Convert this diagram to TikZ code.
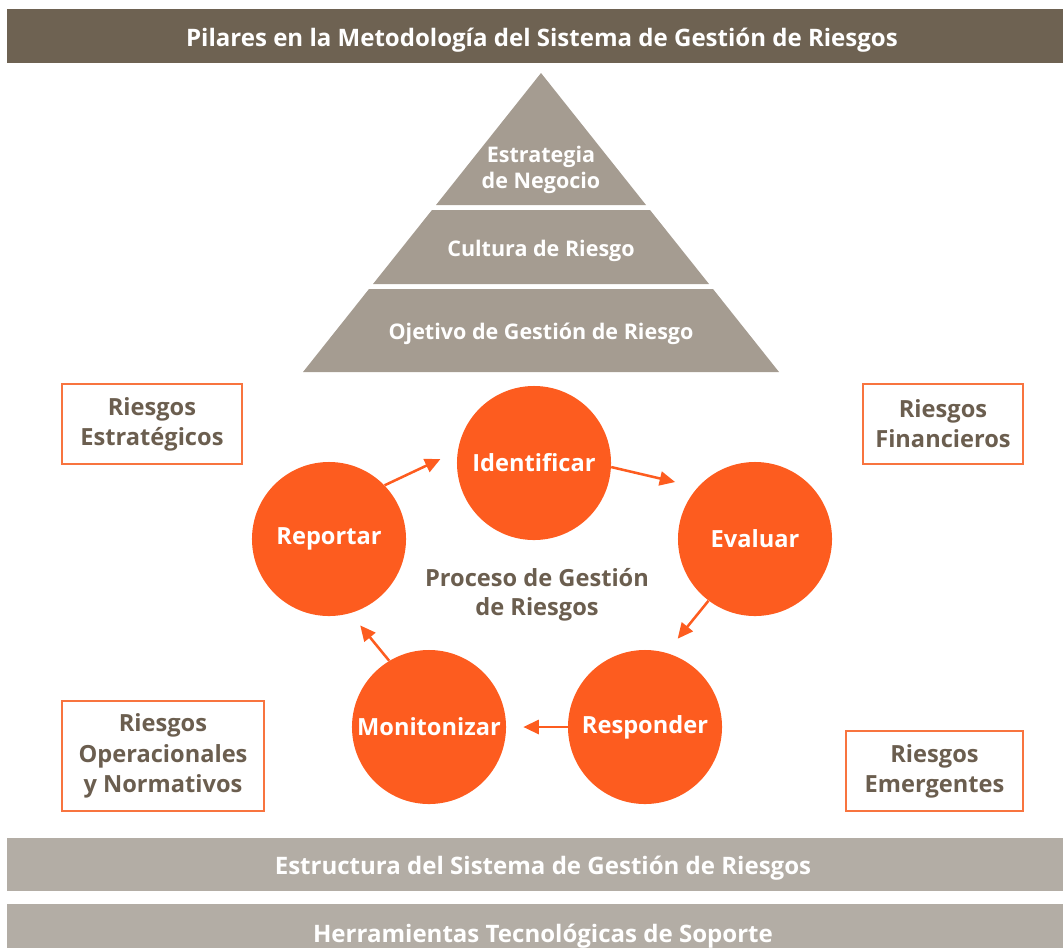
\documentclass[tikz,border=0pt]{standalone}
\usepackage{fontspec}
\setmainfont{Open Sans}
\usetikzlibrary{arrows.meta}

\definecolor{barbrown}{HTML}{6E6252}
\definecolor{pyrgray}{HTML}{A59C91}
\definecolor{bargray}{HTML}{B3ADA5}
\definecolor{riskorange}{HTML}{FD5C1F}
\definecolor{boxorange}{HTML}{F8743F}
\definecolor{textbrown}{HTML}{6B5E4F}

\begin{document}
\begin{tikzpicture}[x=0.025cm, y=-0.025cm,
  piso/.style={text=white, align=center, font=\bfseries\fontsize{15.3}{18}\selectfont},
  banda/.style={text=white, font=\bfseries\fontsize{17.1}{20}\selectfont},
  paso/.style={circle, fill=riskorange, minimum size=3.85cm, inner sep=0pt, text=white, font=\bfseries\fontsize{16.8}{19}\selectfont},
  riesgo/.style={draw=boxorange, line width=1.1pt, text=textbrown, align=center, inner sep=0pt, font=\bfseries\fontsize{16.8}{21.5}\selectfont},
  flecha/.style={draw=riskorange, line width=1.8pt, -{Triangle[length=11pt, width=10pt]}}]
\useasboundingbox (0,0) rectangle (1063,948);

% Title bar
\fill[barbrown] (7,9) rectangle (1063,63);
\node[banda] (titulo) at (542,40) {Pilares en la Metodología del Sistema de Gestión de Riesgos};

% Pyramid
\fill[pyrgray] (541,73) -- (646,205) -- (436,205) -- cycle;
\fill[pyrgray] (432,210) -- (650,210) -- (709,284) -- (373,284) -- cycle;
\fill[pyrgray] (369,289) -- (713,289) -- (779,372) -- (303,372) -- cycle;
\node[piso] (estrategia) at (541,170) {Estrategia\\de Negocio};
\node[piso] (cultura) at (541,251) {Cultura de Riesgo};
\node[piso] (objetivo) at (541,334) {Ojetivo de Gestión de Riesgo};

% Risk boxes
\node[riesgo, minimum width=4.5cm, minimum height=2cm] (estrat) at (152,424) {Riesgos\\Estratégicos};
\node[riesgo, minimum width=4cm, minimum height=2cm] (financ) at (943,424) {Riesgos\\Financieros};
\node[riesgo, minimum width=5.05cm, minimum height=2.75cm] (operac) at (163,756) {Riesgos\\Operacionales\\y Normativos};
\node[riesgo, minimum width=4.425cm, minimum height=2cm] (emerg) at (934.5,771) {Riesgos\\Emergentes};

% Process circles
\node[paso] (idn) at (534,463) {Identificar};
\node[paso] (evl) at (755,539) {Evaluar};
\node[paso] (rsp) at (645,727) {Responder};
\node[paso] (mon) at (429,727) {Monitonizar};
\node[paso] (rep) at (329,539) {Reportar};
\node[text=textbrown, align=center, font=\bfseries\fontsize{16.8}{21}\selectfont] (proceso) at (537,595) {Proceso de Gestión\\de Riesgos};

% Arrows
\draw[flecha, shorten >=0.475cm] (rep.44) -- (idn.171);
\draw[flecha, shorten >=0.575cm] (idn.-3) -- (evl.138);
\draw[flecha, shorten >=0.45cm] (evl.233) -- (rsp.74);
\draw[flecha, shorten >=0.425cm] (rsp.180) -- (mon.0);
\draw[flecha, shorten >=0.39cm] (mon.121) -- (rep.286);

% Bottom bars
\fill[bargray] (7,838) rectangle (1063,891);
\node[banda] (estructura) at (543,868) {Estructura del Sistema de Gestión de Riesgos};
\fill[bargray] (7,904) rectangle (1063,948);
\node[banda] (herramientas) at (543,936) {Herramientas Tecnológicas de Soporte};
\end{tikzpicture}
\end{document}
